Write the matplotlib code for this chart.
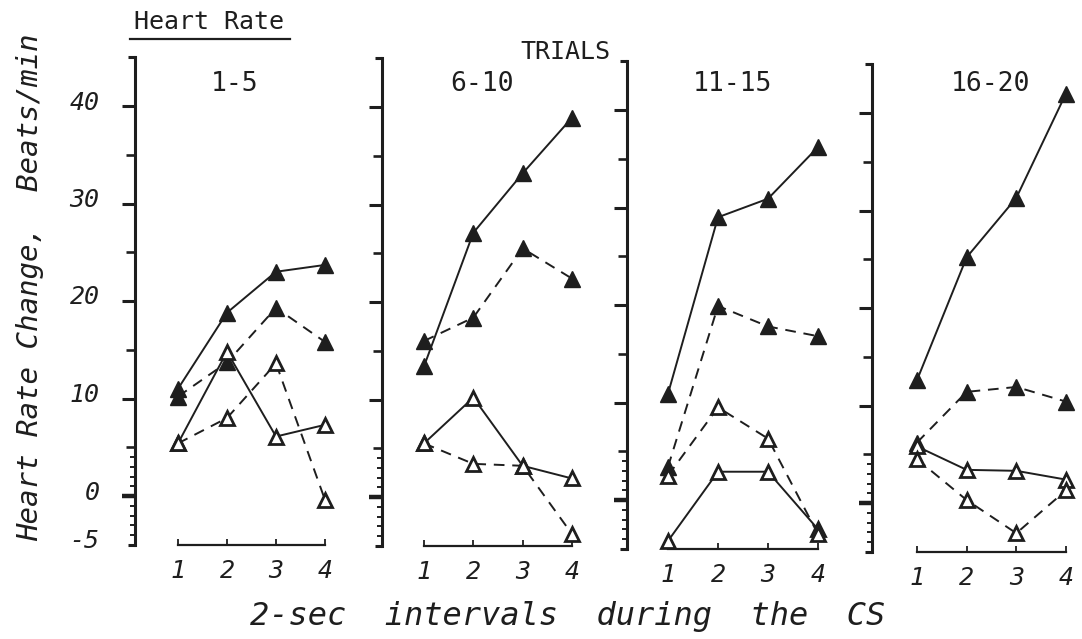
import matplotlib
matplotlib.use("Agg")
import matplotlib.pyplot as plt
import matplotlib.transforms as mtransforms

# ---------------- data ----------------
intervals = [1, 2, 3, 4]
panel_titles = ["1-5", "6-10", "11-15", "16-20"]

# filled triangles, solid line
filled_solid = [
    [11.0, 18.8, 23.0, 23.7],
    [13.4, 27.1, 33.2, 38.9],
    [10.9, 29.0, 30.9, 36.2],
    [12.6, 25.2, 31.3, 42.0],
]
# filled triangles, dashed line
filled_dashed = [
    [10.2, 13.7, 19.3, 15.8],
    [16.0, 18.4, 25.5, 22.4],
    [3.4, 19.9, 17.8, 16.8],
    [6.2, 11.4, 11.9, 10.4],
]
# open triangles, solid line
open_solid = [
    [5.4, 14.8, 6.1, 7.3],
    [5.5, 10.2, 3.2, 1.9],
    [-4.2, 2.9, 2.9, -3.0],
    [5.8, 3.4, 3.3, 2.4],
]
# open triangles, dashed line
open_dashed = [
    [5.4, 8.0, 13.6, -0.4],
    [5.5, 3.4, 3.2, -3.8],
    [2.5, 9.5, 6.3, -3.5],
    [4.5, 0.3, -3.1, 1.3],
]

y_major = [-5, 0, 10, 20, 30, 40]
y_major_labels = ["-5", "0", "10", "20", "30", "40"]
x_tick_labels = ["1", "2", "3", "4"]

# ---------------- layout (pixels) ----------------
W, H = 1082, 639
# spine x, x=1 pixel, x=4 pixel, y=0 pixel
layout = [
    (135, 178, 325, 496),
    (382, 424, 572, 497),
    (627, 668, 818, 500),
    (872, 917, 1066, 503),
]
py_per_unit = 9.75
YMIN, YMAX = -5, 45
XRIGHT = 4.25

ink = "#1e1e1e"
mono = "DejaVu Sans Mono"
script = {"family": "DejaVu Sans Mono", "style": "oblique"}

fig = plt.figure(figsize=(W / 100, H / 100), dpi=100)
fig.patch.set_facecolor("white")

minor_vals = [-4, -3, -2, -1, 1, 2, 3, 4, 5, 15, 25, 35]

for i, (sx, x1, x4, y0) in enumerate(layout):
    ppu_x = (x4 - x1) / 3.0
    xmin = 1 - (x1 - sx) / ppu_x
    left_px = sx
    right_px = x1 + (XRIGHT - 1) * ppu_x
    top_px = y0 - YMAX * py_per_unit
    bot_px = y0 - YMIN * py_per_unit
    ax = fig.add_axes([left_px / W, 1 - bot_px / H,
                       (right_px - left_px) / W, (bot_px - top_px) / H])
    ax.set_xlim(xmin, XRIGHT)
    ax.set_ylim(YMIN, YMAX)
    ax.patch.set_alpha(0)

    for s in ["top", "right"]:
        ax.spines[s].set_visible(False)
    ax.spines["left"].set_linewidth(2.2)
    ax.spines["left"].set_color(ink)
    ax.spines["bottom"].set_linewidth(1.6)
    ax.spines["bottom"].set_color(ink)
    ax.spines["bottom"].set_bounds(1, 4)

    # x ticks
    ax.set_xticks(intervals)
    ax.set_xticklabels(x_tick_labels, fontsize=18, color=ink, **script)
    ax.tick_params(axis="x", direction="in", length=4, width=1.3,
                   colors=ink, pad=10)

    # y ticks
    ax.set_yticks(y_major + [45])
    if i == 0:
        ax.set_yticklabels(y_major_labels + [""], fontsize=18, color=ink, **script)
    else:
        ax.set_yticklabels([""] * (len(y_major) + 1))
    ax.set_yticks(minor_vals, minor=True)
    ax.tick_params(axis="y", which="major", direction="out", length=9.5,
                   width=2.2, colors=ink, pad=16)
    ax.tick_params(axis="y", which="minor", direction="out", length=3.5,
                   width=1.4, colors=ink)
    for t, v in zip(ax.yaxis.get_major_ticks(), y_major + [45]):
        if v in (-5, 45):
            t.tick1line.set_markersize(5)
        if v == 0:
            t.tick1line.set_markeredgewidth(3.2)
    for t, v in zip(ax.yaxis.get_minor_ticks(), minor_vals):
        if v in (5, 15, 25, 35):
            t.tick1line.set_markersize(6.5)
            t.tick1line.set_markeredgewidth(1.9)
    if i == 0:
        off = mtransforms.ScaledTranslation(0, 6 / 100, fig.dpi_scale_trans)
        for lab in ax.get_yticklabels():
            lab.set_transform(lab.get_transform() + off)

    # series
    ms = 11
    dash = (0, (5.5, 4))
    ax.plot(intervals, filled_solid[i], "-", color=ink, lw=1.4,
            marker="^", ms=ms, mfc=ink, mec=ink, clip_on=False, zorder=3)
    ax.plot(intervals, filled_dashed[i], color=ink, lw=1.4, ls=dash,
            marker="^", ms=ms, mfc=ink, mec=ink, clip_on=False, zorder=3)
    ax.plot(intervals, open_solid[i], "-", color=ink, lw=1.4,
            marker="^", ms=ms - 1, mfc="white", mec=ink, mew=2.0,
            clip_on=False, zorder=4)
    ax.plot(intervals, open_dashed[i], color=ink, lw=1.4, ls=dash,
            marker="^", ms=ms - 1, mfc="white", mec=ink, mew=2.0,
            clip_on=False, zorder=4)

# panel titles
title_pos = [(235, 84), (482, 84), (732, 84), (990, 84)]
for (tx, ty), t in zip(title_pos, panel_titles):
    fig.text(tx / W, 1 - ty / H, t, ha="center", va="center",
             fontsize=19, family=mono, color=ink, weight="medium")

fig.text(565 / W, 1 - 52 / H, "TRIALS", ha="center", va="center",
         fontsize=18, family=mono, color=ink)

# "Heart Rate" underlined
fig.text(209 / W, 1 - 22 / H, "Heart Rate", ha="center", va="center",
         fontsize=18, family=mono, color=ink)
fig.add_artist(plt.Line2D([130 / W, 290 / W], [1 - 39 / H, 1 - 39 / H],
                          color=ink, lw=1.6, transform=fig.transFigure))

# axis labels
fig.text(30 / W, 1 - 287 / H, "Heart Rate Change,  Beats/min", rotation=90,
         ha="center", va="center", fontsize=21, color=ink, **script)
fig.text(568 / W, 1 - 617 / H, "2-sec  intervals  during  the  CS", ha="center",
         va="center", fontsize=23, color=ink, **script)

fig.savefig("out.png", dpi=100, facecolor="white")
